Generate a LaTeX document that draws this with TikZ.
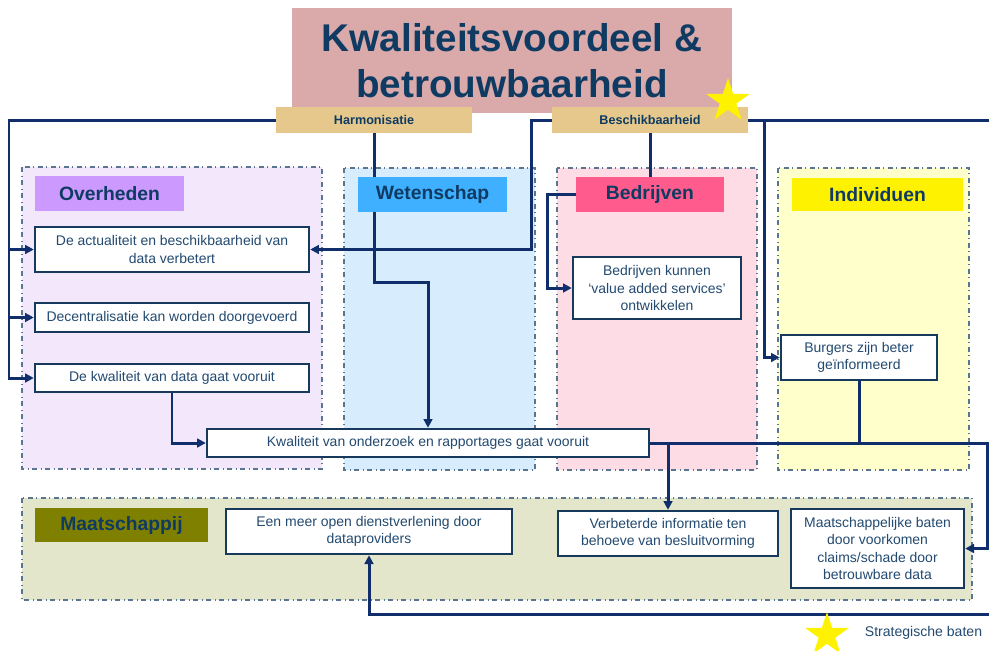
\documentclass[tikz,border=0pt]{standalone}
\usepackage{fontspec}
\setmainfont{Liberation Sans}
\usetikzlibrary{arrows.meta,shapes.geometric}
\definecolor{navy}{HTML}{0F2E6B}
\definecolor{txtblue}{HTML}{0F3B63}
\definecolor{boxtxt}{HTML}{234A70}
\definecolor{boxline}{HTML}{16395C}
\definecolor{panelline}{HTML}{5A7590}
\definecolor{titlefill}{HTML}{DAA9AA}
\definecolor{tanfill}{HTML}{E6C88C}
\begin{document}
\begin{tikzpicture}[x=0.02cm,y=-0.02cm,
  panel/.style={draw=panelline,dash dot,line width=0.7pt},
  head/.style={inner sep=0,text=txtblue,font=\fontsize{11}{13}\selectfont\bfseries,minimum height=0.7cm},
  tag/.style={fill=tanfill,inner sep=0,text=txtblue,font=\fontsize{7.2}{9}\selectfont\bfseries,minimum width=3.92cm,minimum height=0.52cm},
  box/.style={draw=boxline,line width=1.4pt,fill=white,inner sep=0,align=center,text=boxtxt,font=\fontsize{7.95}{9.7}\selectfont},
  conn/.style={draw=navy,line width=1.7pt},
  arr/.style={conn,-{Triangle[length=5pt,width=5pt]}},
  sterretje/.style={star,star points=5,star point ratio=2.618,fill=yellow,inner sep=0,minimum size=0.92cm}]
\useasboundingbox (0,0) rectangle (989,650);
% groups
\draw[panel,fill={rgb,255:red,243;green,232;blue,251}] (22,167) rectangle (322,469);
\draw[panel,fill={rgb,255:red,215;green,236;blue,253}] (344,168) rectangle (535,470);
\draw[panel,fill={rgb,255:red,253;green,220;blue,230}] (557,168) rectangle (757,470);
\draw[panel,fill={rgb,255:red,255;green,255;blue,204}] (778,168) rectangle (969,470);
\draw[panel,fill={rgb,255:red,227;green,230;blue,203}] (22,498) rectangle (972,600);

\node[fill=titlefill,inner sep=0,minimum width=8.8cm,minimum height=2.1cm,align=center,text=txtblue,
  font=\fontsize{22}{26}\selectfont\bfseries] (title) at (512,60.5) {Kwaliteitsvoordeel \&\\betrouwbaarheid};
\node[tag] (harm) at (374,120) {Harmonisatie};
\node[tag] (besch) at (650,120) {Beschikbaarheid};

\node[box,minimum width=5.48cm,minimum height=0.9cm] (a1) at (172,249.5) {De actualiteit en beschikbaarheid van\\data verbetert};
\node[box,minimum width=5.48cm,minimum height=0.58cm] (a2) at (172,317.5) {Decentralisatie kan worden doorgevoerd};
\node[box,minimum width=5.48cm,minimum height=0.56cm] (a3) at (172,378) {De kwaliteit van data gaat vooruit};
\node[box,minimum width=8.84cm,minimum height=0.56cm] (k) at (428,443) {Kwaliteit van onderzoek en rapportages gaat vooruit};
\node[box,minimum width=3.36cm,minimum height=1.24cm] (b) at (657,288) {Bedrijven kunnen\\‘value added services’\\ontwikkelen};
\node[box,minimum width=3.12cm,minimum height=0.9cm] (i) at (859,357.5) {Burgers zijn beter\\geïnformeerd};
\node[box,minimum width=5.72cm,minimum height=0.9cm] (m1) at (369,531.5) {Een meer open dienstverlening door\\dataproviders};
\node[box,minimum width=4.4cm,minimum height=0.9cm] (m2) at (668,533.5) {Verbeterde informatie ten\\behoeve van besluitvorming};
\node[box,minimum width=3.46cm,minimum height=1.58cm] (m3) at (877.5,548.5) {Maatschappelijke baten\\door voorkomen\\claims/schade door\\betrouwbare data};

% connectors
\coordinate (lrail) at (9,378);
\draw[arr] (harm.west) -| (lrail) -- (a3.west);
\draw[arr] (a1.west -| lrail) -- (a1.west);
\draw[arr] (a2.west -| lrail) -- (a2.west);
\draw[arr] (harm.south) -- ++(0,149) -| (k.north);
\draw[arr] (besch.west) -- ++(-20,0) |- (a1.east);
\draw[conn] (besch.south) -- (650,177);
\coordinate (rtop) at (989,120);
\draw[conn] (besch.east) -- (rtop);
\draw[arr] (besch.east) ++(16,0) |- (i.west);
\draw[arr] (a3.south) |- (k.west);
\draw[conn] (i.south) -- (i.south |- k.east);
\coordinate (rmid) at (987,443);
\draw[arr] (k.east) -- (rmid) |- (m3.east);
\draw[arr] (k.east -| m2.north) -- (m2.north);
\coordinate (rbot) at (989,614);
\draw[arr] (rbot) -| (m1.south);

% labels on top
\node[head,fill={rgb,255:red,204;green,153;blue,255},minimum width=2.98cm] (over) at (109.5,193.5) {Overheden};
\node[head,fill={rgb,255:red,63;green,176;blue,255},minimum width=2.98cm] (wet) at (432.5,194) {Wetenschap};
\node[head,fill={rgb,255:red,255;green,92;blue,141},minimum width=2.96cm] (bedr) at (650,194) {Bedrijven};
\node[head,fill=yellow,minimum width=3.42cm,minimum height=0.66cm] (ind) at (877.5,194.5) {Individuen};
\node[head,fill={rgb,255:red,128;green,128;blue,0},minimum width=3.46cm,minimum height=0.68cm] (maat) at (121.5,525) {Maatschappij};
\draw[arr] (bedr.west) -- ++(-28,0) |- (b.west);

\node[sterretje] (s1) at (728,101) {};
\node[sterretje] (s2) at (827,635) {};
\node[text=boxtxt,font=\fontsize{8}{10}\selectfont,inner sep=0] (legend) at (923.5,633) {Strategische baten};
\end{tikzpicture}
\end{document}
